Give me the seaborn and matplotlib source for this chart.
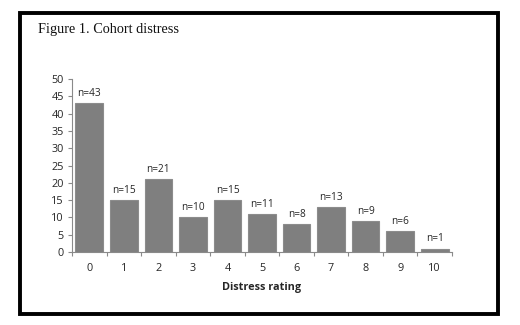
import matplotlib
matplotlib.use("Agg")
import matplotlib.pyplot as plt
from matplotlib.patches import Rectangle
from matplotlib.ticker import FixedLocator
import seaborn as sns
import pandas as pd

ratings = ["0", "1", "2", "3", "4", "5", "6", "7", "8", "9", "10"]
counts = [43, 15, 21, 10, 15, 11, 8, 13, 9, 6, 1]
title = "Figure 1. Cohort distress"
xlabel = "Distress rating"
yticks = [0, 5, 10, 15, 20, 25, 30, 35, 40, 45, 50]

sns.set_theme(style="white")
plt.rcParams['font.family'] = ['Open Sans', 'DejaVu Sans']

df = pd.DataFrame({"rating": ratings, "count": counts})

fig = plt.figure(figsize=(5.2, 3.25), dpi=100)
fig.patch.set_facecolor("white")
ax = fig.add_axes([72/520, 1-252/325, 380/520, 173/325])

sns.barplot(data=df, x="rating", y="count", order=ratings, color="#7f7f7f",
            width=0.8, saturation=1, edgecolor="#8c8c8c", linewidth=0.8, ax=ax)

for i, c in enumerate(counts):
    ax.annotate(f"n={c}", (i, c), xytext=(0, 3), textcoords="offset points",
                ha="center", va="bottom", fontsize=7.3, color="#262626")

ax.set_xlim(-0.5, len(ratings) - 0.5)
ax.set_ylim(0, 50)
ax.set_yticks(yticks)
ax.tick_params(axis="y", labelsize=7.8, colors="#262626", length=3, width=0.8,
               direction="out", left=True, pad=3)
ax.tick_params(axis="x", labelsize=7.8, colors="#262626", length=0, pad=8)
ax.xaxis.set_minor_locator(FixedLocator([i - 0.5 for i in range(len(ratings) + 1)]))
ax.tick_params(axis="x", which="minor", length=3, width=0.8, color="#8a8a8a",
               bottom=True, direction="out")
ax.tick_params(axis="y", color="#8a8a8a")

for s in ["top", "right"]:
    ax.spines[s].set_visible(False)
for s in ["left", "bottom"]:
    ax.spines[s].set_color("#8a8a8a")
    ax.spines[s].set_linewidth(0.8)

ax.set_xlabel(xlabel, fontsize=7.8, fontweight="bold", color="#262626", labelpad=6)
ax.set_ylabel("")

fig.text(38/520, 1-33/325, title, fontsize=10.3, family=["Liberation Serif"],
         color="#111111", ha="left", va="baseline")

fig.patches.append(Rectangle((20/520, 1-314/325), 478/520, 301/325,
                             transform=fig.transFigure, fill=False,
                             edgecolor="black", linewidth=2.8, zorder=10))

fig.savefig("out.png", dpi=100, facecolor="white")
